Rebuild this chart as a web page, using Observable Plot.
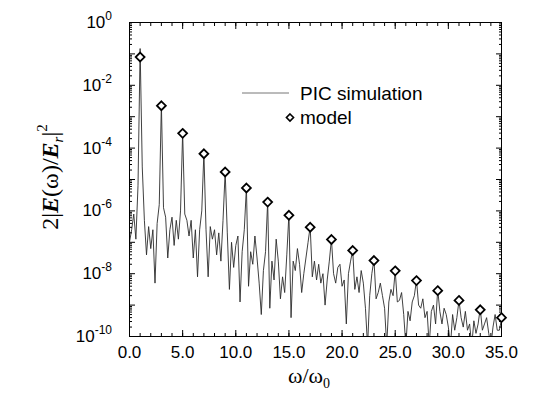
<!DOCTYPE html>
<html><head><meta charset="utf-8">
<script src="https://cdn.jsdelivr.net/npm/d3@7"></script>
<script src="https://cdn.jsdelivr.net/npm/@observablehq/plot@0.6"></script>
<style>body{margin:0;background:#fff} svg{overflow:visible}</style>
</head><body><div id="chart"></div>
<script>
// PIC simulation spectrum: omega/omega0 and log10 of 2|E(w)/Er|^2
const picOmega = [
 0,0.2,0.4,0.6,0.8, 1,1.2,1.4,1.6,1.8, 2,2.2,2.4,2.6,2.8, 3,3.2,3.4,3.6,3.8,
 4,4.2,4.4,4.6,4.8, 5,5.2,5.4,5.6,5.8, 6,6.2,6.4,6.6,6.8, 7,7.2,7.4,7.6,7.8,
 8,8.2,8.4,8.6,8.8, 9,9.2,9.4,9.6,9.8, 10,10.2,10.4,10.6,10.8, 11,11.2,11.4,11.6,11.8,
 12,12.2,12.4,12.6,12.8, 13,13.2,13.4,13.6,13.8, 14,14.2,14.4,14.6,14.8, 15,15.2,15.4,15.6,15.8,
 16,16.2,16.4,16.6,16.8, 17,17.2,17.4,17.6,17.8, 18,18.2,18.4,18.6,18.8, 19,19.2,19.4,19.6,19.8,
 20,20.2,20.4,20.6,20.8, 21,21.2,21.4,21.6,21.8, 22,22.2,22.4,22.6,22.8, 23,23.2,23.4,23.6,23.8,
 24,24.2,24.4,24.6,24.8, 25,25.2,25.4,25.6,25.8, 26,26.2,26.4,26.6,26.8, 27,27.2,27.4,27.6,27.8,
 28,28.2,28.4,28.6,28.8, 29,29.2,29.4,29.6,29.8, 30,30.2,30.4,30.6,30.8, 31,31.2,31.4,31.6,31.8,
 32,32.2,32.4,32.6,32.8, 33,33.2,33.4,33.6,33.8, 34,34.2,34.4,34.6,34.8, 35
];
const picLog10 = [
 -7.0,-6.6,-6.1,-6.9,-5.2,  -0.83,-4.6,-6.3,-7.4,-6.5,  -7.2,-6.6,-8.3,-6.4,-5.8,  -2.6,-5.9,-6.2,-7.5,-6.6,
 -6.2,-7.1,-6.3,-6.9,-6.0,  -3.5,-6.1,-6.3,-6.8,-6.3,  -7.5,-6.6,-8.1,-6.6,-6.0,  -4.15,-6.6,-8.1,-6.5,-6.9,
 -6.6,-7.4,-6.7,-7.6,-6.3,  -4.75,-6.7,-8.5,-7.0,-7.8,  -7.1,-6.8,-8.9,-7.3,-6.6,  -5.25,-8.4,-7.3,-7.7,-6.8,
 -7.5,-8.3,-9.3,-7.9,-7.3,  -5.7,-9.1,-7.6,-8.2,-6.9,  -7.6,-8.8,-8.1,-8.6,-7.4,  -6.1,-9.4,-7.6,-7.9,-7.2,
 -7.7,-8.6,-8.0,-7.5,-7.0,  -6.5,-8.1,-7.6,-8.2,-7.7,  -8.3,-8.0,-9.0,-8.2,-7.6,  -6.9,-8.0,-8.3,-7.8,-7.7,
 -8.4,-8.2,-9.6,-8.0,-7.6,  -7.25,-8.5,-8.1,-8.6,-7.9,  -8.3,-9.1,-10.3,-8.7,-8.0,  -7.55,-8.8,-8.6,-8.3,-8.7,
 -9.1,-10.3,-8.9,-8.5,-8.7,  -7.9,-8.9,-8.85,-8.6,-9.3,  -10.3,-9.2,-9.5,-8.9,-8.7,  -8.2,-9.0,-9.1,-8.8,-9.4,
 -9.2,-10.3,-9.2,-9.0,-9.6,  -8.5,-9.2,-9.6,-9.1,-9.3,  -9.7,-10.3,-9.3,-9.8,-9.4,  -8.85,-9.4,-9.7,-9.2,-9.8,
 -9.6,-10.3,-9.5,-9.9,-9.6,  -9.1,-9.8,-9.6,-9.4,-9.9,  -10.3,-9.7,-9.3,-9.8,-9.8,  -9.45
];
// model: odd harmonics
const modelOmega = [1,3,5,7,9,11,13,15,17,19,21,23,25,27,29,31,33,35];
const modelLog10 = [-1.1,-2.65,-3.53,-4.18,-4.76,-5.27,-5.72,-6.14,-6.52,-6.91,-7.26,-7.58,-7.91,-8.22,-8.54,-8.85,-9.15,-9.4];

const xTicks = [0,5,10,15,20,25,30,35];
const xTickLabels = ["0.0","5.0","10.0","15.0","20.0","25.0","30.0","35.0"];
const xMinorTicks = [0,1,2,3,4,5,6,7,8,9,10,11,12,13,14,15,16,17,18,19,20,21,22,23,24,25,26,27,28,29,30,31,32,33,34,35];
const yTickExponents = [0,-2,-4,-6,-8,-10];
const yDecadeExponents = [0,-1,-2,-3,-4,-5,-6,-7,-8,-9,-10];
const yMinorMantissas = [2,3,4,5,6,7,8,9];
const legendLabels = ["PIC simulation","model"];

const pic = picOmega.map((w,i)=>({w, p: Math.pow(10, picLog10[i])}));
const model = modelOmega.map((w,i)=>({w, p: Math.pow(10, modelLog10[i])}));
const yMajor = yDecadeExponents.map(e=>Math.pow(10,e));
const yMinor = yDecadeExponents.slice(1).flatMap(e=>yMinorMantissas.map(m=>m*Math.pow(10,e)));

const plot = Plot.plot({
  width: 538, height: 399,
  marginTop: 22, marginBottom: 63, marginLeft: 129, marginRight: 37,
  style: {fontFamily: "'Liberation Sans', Arial, sans-serif", fontSize: "17px", color: "#000", background: "#fff", overflow: "visible"},
  x: {domain: [0,35]},
  y: {type: "log", domain: [1e-10, 1]},
  marks: [
    Plot.line(pic, {x: "w", y: "p", stroke: "#2b2b2b", strokeWidth: 0.9, clip: true}),
    Plot.frame({stroke: "#000", strokeWidth: 1}),
    Plot.axisX({anchor: "bottom", ticks: xMinorTicks, tickSize: 3, dy: -3, text: null, label: null}),
    Plot.axisX({anchor: "bottom", ticks: xTicks, tickSize: 6, dy: -6, text: null, label: null}),
    Plot.axisX({anchor: "top", ticks: xMinorTicks, tickSize: 3, dy: 3, text: null, label: null}),
    Plot.axisX({anchor: "top", ticks: xTicks, tickSize: 6, dy: 6, text: null, label: null}),
    Plot.axisX({anchor: "bottom", ticks: xTicks, tickSize: 0, tickPadding: 9, label: null,
      tickFormat: d => xTickLabels[xTicks.indexOf(d)], fontSize: 17}),
    Plot.axisY({anchor: "left", ticks: yMinor, tickSize: 3, dx: 3, text: null, label: null}),
    Plot.axisY({anchor: "left", ticks: yMajor, tickSize: 6, dx: 6, text: null, label: null}),
    Plot.axisY({anchor: "right", ticks: yMinor, tickSize: 3, dx: -3, text: null, label: null}),
    Plot.axisY({anchor: "right", ticks: yMajor, tickSize: 6, dx: -6, text: null, label: null}),
    Plot.dot(model, {x: "w", y: "p", symbol: "diamond2", r: 4, stroke: "#000", strokeWidth: 1.8, fill: "#fff"})
  ]
});
document.getElementById("chart").appendChild(plot);

const svg = d3.select(plot);
const ys = plot.scale("y");

// y tick labels with superscript exponents
const yl = svg.append("g").attr("font-family", "'Liberation Sans', Arial, sans-serif").attr("fill", "#000");
yTickExponents.forEach(e => {
  const t = yl.append("text").attr("x", 112).attr("y", ys.apply(Math.pow(10, e)) + 6)
    .attr("text-anchor", "end").attr("font-size", 17);
  t.append("tspan").text("10");
  t.append("tspan").attr("dy", -8).attr("font-size", 12).text(String(e));
});

// y axis label: 2|E(ω)/E_r|^2
const ylab = svg.append("text")
  .attr("transform", "translate(58,177) rotate(-90)")
  .attr("text-anchor", "middle")
  .attr("font-family", "'Liberation Serif', 'Times New Roman', serif")
  .attr("font-size", 24).attr("fill", "#000");
ylab.append("tspan").text("2|");
ylab.append("tspan").attr("font-style", "italic").attr("font-weight", "bold").text("E");
ylab.append("tspan").text("(ω)/");
ylab.append("tspan").attr("font-style", "italic").attr("font-weight", "bold").text("E");
ylab.append("tspan").attr("font-size", 15).attr("font-style", "italic").attr("dy", 5).text("r");
ylab.append("tspan").attr("dy", -5).text("|");
ylab.append("tspan").attr("font-size", 15).attr("dy", -11).text("2");

// x axis label: ω/ω0
const xlab = svg.append("text")
  .attr("x", 309).attr("y", 383).attr("text-anchor", "middle")
  .attr("font-family", "'Liberation Serif', 'Times New Roman', serif")
  .attr("font-size", 22).attr("fill", "#000");
xlab.append("tspan").text("ω/ω");
xlab.append("tspan").attr("font-size", 14).attr("dy", 5).text("0");

// legend
const lg = svg.append("g").attr("font-family", "'Liberation Sans', Arial, sans-serif").attr("font-size", 19).attr("fill", "#000").attr("text-anchor", "start");
lg.append("line").attr("x1", 242).attr("x2", 289).attr("y1", 93).attr("y2", 93).attr("stroke", "#777").attr("stroke-width", 1);
lg.append("text").attr("x", 300).attr("y", 99.5).attr("text-anchor", "start").text(legendLabels[0]);
lg.append("path").attr("d", d3.symbol(d3.symbolDiamond2, Math.PI * 3.2 * 3.2)()).attr("transform", "translate(290,117.5)")
  .attr("fill", "#fff").attr("stroke", "#000").attr("stroke-width", 1.6);
lg.append("text").attr("x", 300).attr("y", 124).attr("text-anchor", "start").text(legendLabels[1]);
</script>
</body></html>
